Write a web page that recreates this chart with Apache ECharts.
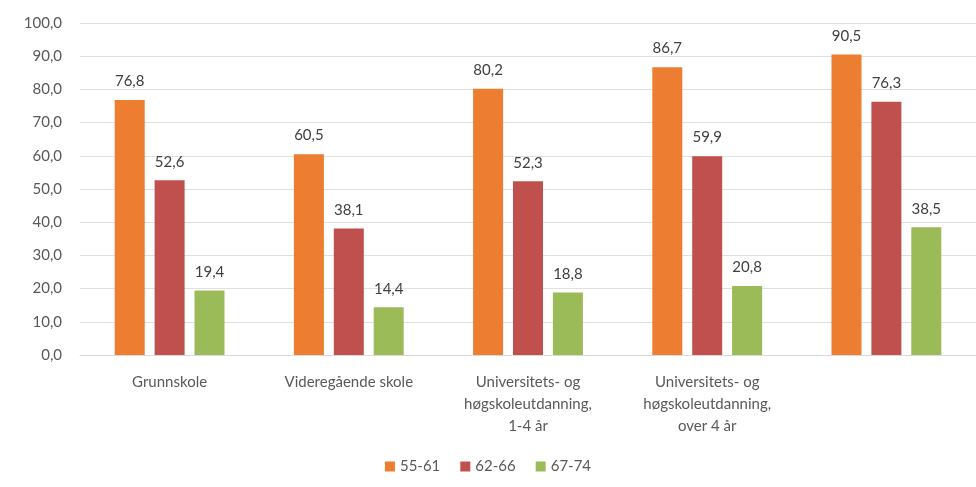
<!DOCTYPE html>
<html>
<head>
<meta charset="utf-8">
<script src="https://cdn.jsdelivr.net/npm/echarts@6/dist/echarts.min.js"></script>
<style>
  html, body { margin: 0; padding: 0; background: #fff; }
  #chart { width: 976px; height: 487px; }
</style>
</head>
<body>
<div id="chart"></div>
<script>
const categories = [
  'Grunnskole',
  'Videregående skole',
  'Universitets- og\nhøgskoleutdanning,\n1-4 år',
  'Universitets- og\nhøgskoleutdanning,\nover 4 år',
  ''
];
const seriesNames = ['55-61', '62-66', '67-74'];
const values5561 = [76.8, 60.5, 80.2, 86.7, 90.5];
const values6266 = [52.6, 38.1, 52.3, 59.9, 76.3];
const values6774 = [19.4, 14.4, 18.8, 20.8, 38.5];
const colors = ['#ED7D31', '#C0504D', '#9BBB59'];

const fmt = v => v.toFixed(1).replace('.', ',');
const font = 'Lato, "Open Sans", sans-serif';

const chart = echarts.init(document.getElementById('chart'));
const makeSeries = (name, data, color) => ({
  name: name,
  type: 'bar',
  data: data,
  barWidth: 30,
  barGap: '33%',
  itemStyle: { color: color },
  label: {
    show: true,
    position: 'top',
    distance: 11,
    color: '#3F3F3F',
    fontSize: 15,
    fontFamily: font,
    formatter: p => fmt(p.value)
  }
});

chart.setOption({
  animation: false,
  grid: { left: 80, right: 0, top: 23, bottom: 132 },
  legend: {
    bottom: 8,
    left: 'center',
    itemWidth: 10,
    itemHeight: 10,
    itemGap: 20,
    icon: 'rect',
    textStyle: { color: '#595959', fontSize: 15, fontFamily: font },
    data: seriesNames
  },
  xAxis: {
    type: 'category',
    data: categories,
    axisTick: { show: false },
    axisLine: { lineStyle: { color: '#D9D9D9' } },
    axisLabel: {
      color: '#595959',
      fontSize: 15,
      fontFamily: font,
      lineHeight: 22,
      margin: 16,
      interval: 0
    }
  },
  yAxis: {
    type: 'value',
    min: 0,
    max: 100,
    interval: 10,
    axisLine: { show: false },
    axisTick: { show: false },
    splitLine: { lineStyle: { color: '#E0E0E0' } },
    axisLabel: {
      color: '#595959',
      fontSize: 15,
      fontFamily: font,
      margin: 18,
      formatter: v => fmt(v)
    }
  },
  series: [
    makeSeries(seriesNames[0], values5561, colors[0]),
    makeSeries(seriesNames[1], values6266, colors[1]),
    makeSeries(seriesNames[2], values6774, colors[2])
  ]
});
</script>
</body>
</html>
